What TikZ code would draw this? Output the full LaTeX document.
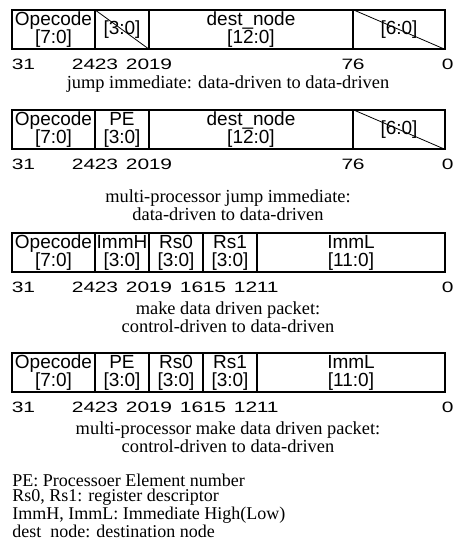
\documentclass[tikz,border=0pt]{standalone}
\usepackage{fontspec}
\setmainfont{Liberation Serif}
\setsansfont{Liberation Sans}
\usetikzlibrary{positioning}
\tikzset{
  field/.style={draw,line width=0.6pt,inner sep=0pt,align=center,
    minimum height=19.5pt,font=\sffamily\fontsize{9.5}{9}\selectfont},
  strike/.style={line width=0.4pt},
  bitnum/.style={inner sep=0pt,yshift=-7.5pt,
    font=\sffamily\fontsize{7.5}{8}\selectfont},
  caption/.style={align=center,inner sep=0pt,
    font=\rmfamily\fontsize{9.2}{9}\selectfont},
  legend/.style={align=left,inner sep=0pt,
    font=\rmfamily\fontsize{9}{7.5}\selectfont}
}
\newcommand{\bitno}[1]{\scalebox{1.4}[1]{#1}}
\begin{document}
\begin{tikzpicture}[x=0.5pt,y=-0.5pt]
  \useasboundingbox (0,0) rectangle (456,548);

  % instruction fields: name/left/right/row middle/text
  \foreach \n/\l/\r/\m/\t in {
      jiop/12/95/29.5/{Opecode\\{}[7:0]}, jipe/95/149/29.5/{[3:0]},
      jidst/149/353/29.5/{dest\_node\\{}[12:0]}, jilo/353/445/29.5/{[6:0]},
      mjop/12/95/129.5/{Opecode\\{}[7:0]}, mjpe/95/149/129.5/{PE\\{}[3:0]},
      mjdst/149/353/129.5/{dest\_node\\{}[12:0]}, mjlo/353/445/129.5/{[6:0]},
      mdop/12/95/252.5/{Opecode\\{}[7:0]}, mdhi/95/149/252.5/{ImmH\\{}[3:0]},
      mdrs0/149/203/252.5/{Rs0\\{}[3:0]}, mdrs1/203/257/252.5/{Rs1\\{}[3:0]},
      mdlo/257/445/252.5/{ImmL\\{}[11:0]},
      mmop/12/95/372.5/{Opecode\\{}[7:0]}, mmpe/95/149/372.5/{PE\\{}[3:0]},
      mmrs0/149/203/372.5/{Rs0\\{}[3:0]}, mmrs1/203/257/372.5/{Rs1\\{}[3:0]},
      mmlo/257/445/372.5/{ImmL\\{}[11:0]}}
    \node[field, minimum width={(\r-\l)*0.5pt}] (\n) at ({(\l+\r)/2},\m) {\t};

  % unused bits are struck out
  \foreach \n in {jipe, jilo, mjlo}
    \draw[strike] (\n.north west) -- (\n.south east);

  % bit numbers
  \foreach \f/\hi/\lo in {jiop/31/24, jipe/23/20, jidst/19/7, jilo/6/,
                          mjop/31/24, mjpe/23/20, mjdst/19/7, mjlo/6/,
                          mdop/31/24, mdhi/23/20, mdrs0/19/16, mdrs1/15/12, mdlo/11/,
                          mmop/31/24, mmpe/23/20, mmrs0/19/16, mmrs1/15/12, mmlo/11/} {
    \node[bitnum, anchor=west] (\f-hi) at (\f.south west) {\bitno{\hi}};
    \node[bitnum, anchor=east] (\f-lo) at (\f.south east) {\bitno{\lo}};
  }
  \foreach \f in {jilo, mjlo, mdlo, mmlo}
    \node[bitnum, anchor=west, xshift=-2pt] (\f-zero) at (\f.south east) {\bitno{0}};

  % captions
  \node[caption] (jicap) at (228,84) {jump immediate: data-driven to data-driven};
  \node[caption] (mjcap) at (228,205) {multi-processor jump immediate:\\data-driven to data-driven};
  \node[caption] (mdcap) at (228,317) {make data driven packet:\\control-driven to data-driven};
  \node[caption] (mmcap) at (228,437) {multi-processor make data driven packet:\\control-driven to data-driven};

  % key
  \node[legend, anchor=west] (key) at (12,506) {PE: Processoer Element number\\
    Rs0, Rs1: register descriptor\\
    ImmH, ImmL: Immediate High(Low)\\
    dest\ \ node: destination node};
\end{tikzpicture}
\end{document}
